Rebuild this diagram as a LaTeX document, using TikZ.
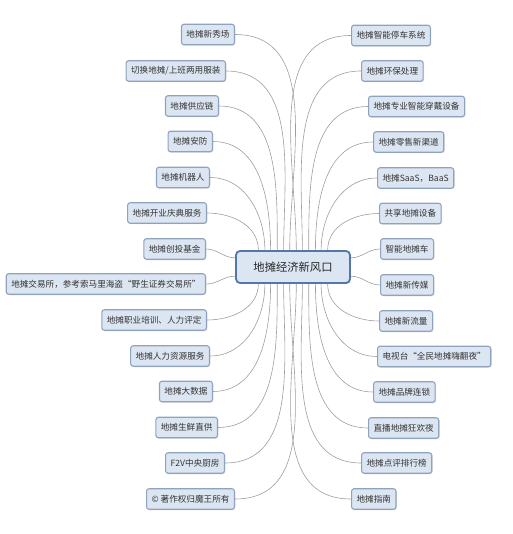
\documentclass[tikz,border=0pt]{standalone}
\usepackage{fontspec}
\setmainfont{Noto Sans CJK SC}
\usetikzlibrary{shadows}

\definecolor{boxfill}{HTML}{DCE6F2}
\definecolor{boxline}{HTML}{8FA3BD}
\definecolor{hubline}{HTML}{5478A6}
\definecolor{linkgray}{HTML}{9E9E9E}
\definecolor{textgray}{HTML}{333333}

\begin{document}
\begin{tikzpicture}[x=1pt,y=-1pt,
  branch/.style={draw=boxline, line width=1.1pt, fill=boxfill, rounded corners=2.5pt,
    inner xsep=5pt, inner ysep=0pt, minimum height=20.5pt, text=textgray,
    font=\fontsize{8.6}{10}\selectfont,
    drop shadow={shadow xshift=1pt, shadow yshift=-1pt, opacity=0.2}},
  hub/.style={draw=hubline, line width=1.8pt, fill=boxfill, rounded corners=4pt,
    minimum width=114pt, minimum height=32pt, text=black!85,
    font=\fontsize{11.3}{13}\selectfont,
    drop shadow={shadow xshift=1pt, shadow yshift=-1pt, opacity=0.2}},
  link/.style={draw=linkgray, line width=0.6pt}]
  \useasboundingbox (0,0) rectangle (512,534);

  \node[hub] (hub) at (293,267) {地摊经济新风口};

  % left side
  \node[branch, anchor=east] (l1) at (235,34.5) {地摊新秀场};
  \node[branch, anchor=east] (l2) at (226,71) {切换地摊/上班两用服装};
  \node[branch, anchor=east] (l3) at (219,106) {地摊供应链};
  \node[branch, anchor=east] (l4) at (213,141.5) {地摊安防};
  \node[branch, anchor=east] (l5) at (210,177.5) {地摊机器人};
  \node[branch, anchor=east] (l6) at (207,213) {地摊开业庆典服务};
  \node[branch, anchor=east] (l7) at (206,249) {地摊创投基金};
  \node[branch, anchor=east] (l8) at (206,284) {地摊交易所，参考索马里海盗“野生证券交易所”};
  \node[branch, anchor=east] (l9) at (207,320) {地摊职业培训、人力评定};
  \node[branch, anchor=east] (l10) at (210,356) {地摊人力资源服务};
  \node[branch, anchor=east] (l11) at (213,391.5) {地摊大数据};
  \node[branch, anchor=east] (l12) at (218,427.5) {地摊生鲜直供};
  \node[branch, anchor=east] (l13) at (225,463) {F2V中央厨房};
  \node[branch, anchor=east] (l14) at (235,499) {© 著作权归魔王所有};

  % right side
  \node[branch, anchor=west] (r1) at (351,35.5) {地摊智能停车系统};
  \node[branch, anchor=west] (r2) at (361,71) {地摊环保处理};
  \node[branch, anchor=west] (r3) at (368,106.5) {地摊专业智能穿戴设备};
  \node[branch, anchor=west] (r4) at (373,142) {地摊零售新渠道};
  \node[branch, anchor=west] (r5) at (377,178) {地摊SaaS，BaaS};
  \node[branch, anchor=west] (r6) at (379,213.5) {共享地摊设备};
  \node[branch, anchor=west] (r7) at (380,249) {智能地摊车};
  \node[branch, anchor=west] (r8) at (380,285) {地摊新传媒};
  \node[branch, anchor=west] (r9) at (379,321) {地摊新流量};
  \node[branch, anchor=west] (r10) at (377,356.5) {电视台“全民地摊嗨翻夜”};
  \node[branch, anchor=west] (r11) at (373,392) {地摊品牌连锁};
  \node[branch, anchor=west] (r12) at (368,428) {直播地摊狂欢夜};
  \node[branch, anchor=west] (r13) at (361,463) {地摊点评排行榜};
  \node[branch, anchor=west] (r14) at (351,499) {地摊指南};

  % connectors, left
  \draw[link] (l1.east) to[out=0,in=90] (hub.101);
  \draw[link] (l2.east) to[out=0,in=90] (hub.119);
  \draw[link] (l3.east) to[out=0,in=90] (hub.133);
  \draw[link] (l4.east) to[out=0,in=90] (hub.143);
  \draw[link] (l5.east) to[out=0,in=90] (hub.149);
  \draw[link] (l6.east) to[out=0,in=90] (hub.154);
  \draw[link] (l7.east) to[out=0,in=180] (hub.171);
  \draw[link] (l8.east) to[out=0,in=180] (hub.189);
  \draw[link] (l9.east) to[out=0,in=270] (hub.206);
  \draw[link] (l10.east) to[out=0,in=270] (hub.211);
  \draw[link] (l11.east) to[out=0,in=270] (hub.217);
  \draw[link] (l12.east) to[out=0,in=270] (hub.227);
  \draw[link] (l13.east) to[out=0,in=270] (hub.241);
  \draw[link] (l14.east) to[out=0,in=270] (hub.259);

  % connectors, right
  \draw[link] (r1.west) to[out=180,in=90] (hub.79);
  \draw[link] (r2.west) to[out=180,in=90] (hub.61);
  \draw[link] (r3.west) to[out=180,in=90] (hub.47);
  \draw[link] (r4.west) to[out=180,in=90] (hub.37);
  \draw[link] (r5.west) to[out=180,in=90] (hub.31);
  \draw[link] (r6.west) to[out=180,in=90] (hub.26);
  \draw[link] (r7.west) to[out=180,in=0] (hub.9);
  \draw[link] (r8.west) to[out=180,in=0] (hub.351);
  \draw[link] (r9.west) to[out=180,in=270] (hub.334);
  \draw[link] (r10.west) to[out=180,in=270] (hub.329);
  \draw[link] (r11.west) to[out=180,in=270] (hub.323);
  \draw[link] (r12.west) to[out=180,in=270] (hub.313);
  \draw[link] (r13.west) to[out=180,in=270] (hub.299);
  \draw[link] (r14.west) to[out=180,in=270] (hub.281);
\end{tikzpicture}
\end{document}
